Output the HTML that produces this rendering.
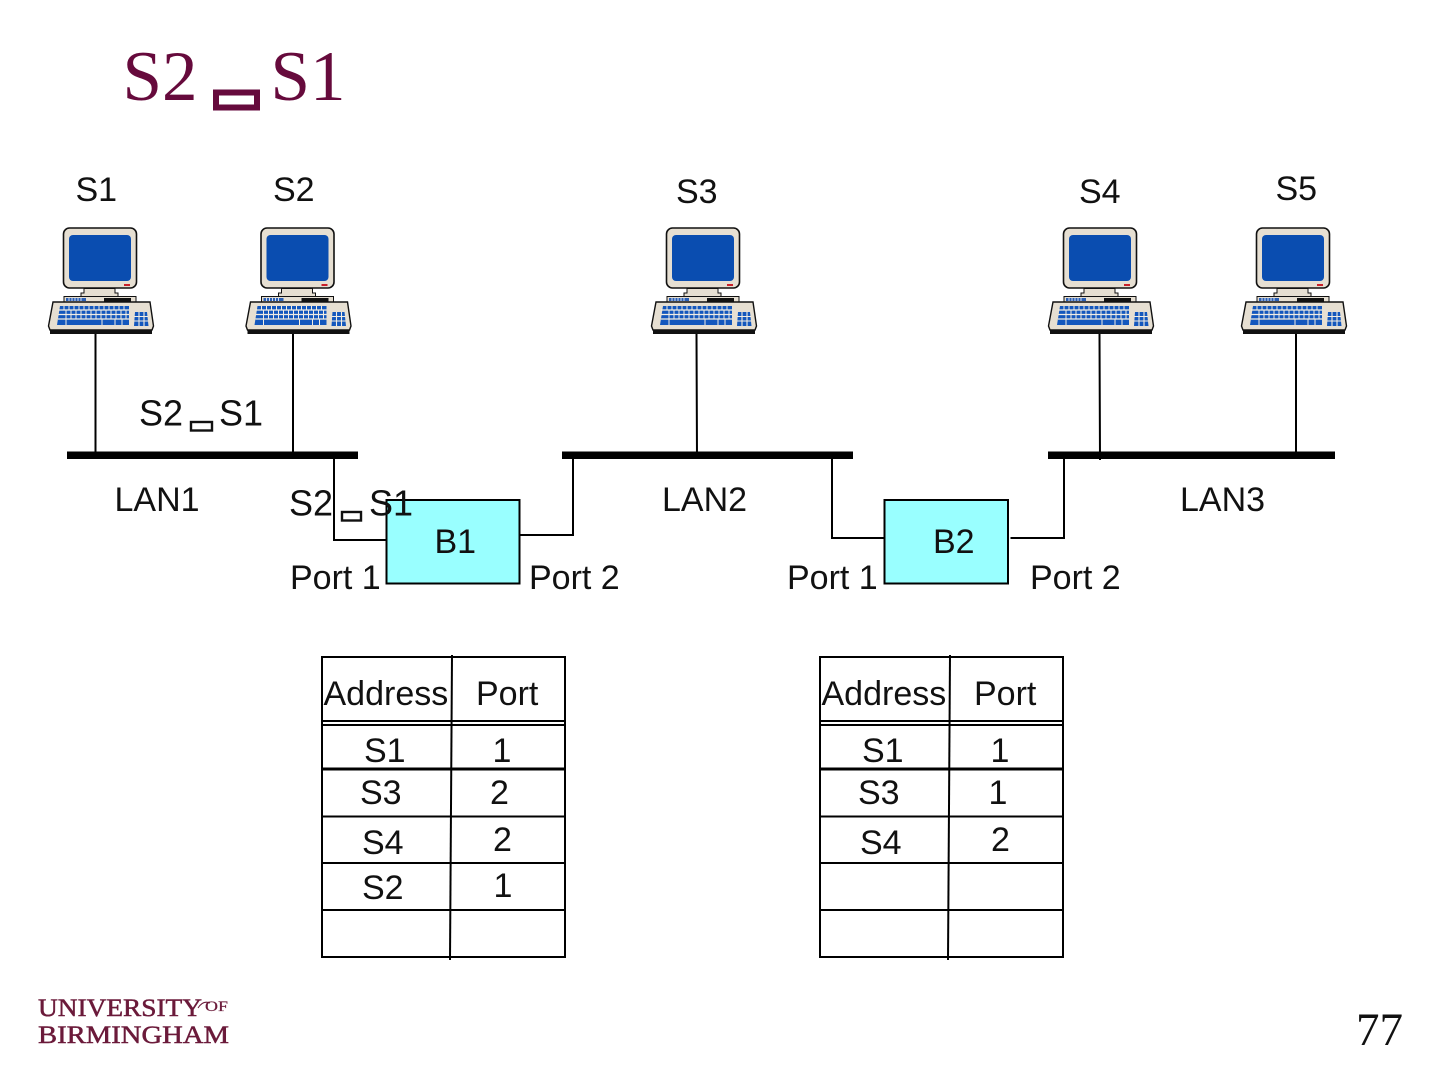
<!DOCTYPE html>
<html>
<head>
<meta charset="utf-8">
<style>
html,body{margin:0;padding:0;background:#fff}
svg{display:block}
.t{font-family:"Liberation Sans",sans-serif;font-size:34px;fill:#111}
.b{font-size:36px}
.l{stroke:#000;stroke-width:2;fill:none}
.s{font-family:"Liberation Serif",serif}
</style>
</head>
<body>
<svg width="1440" height="1080" viewBox="0 0 1440 1080" xmlns="http://www.w3.org/2000/svg">
<rect width="1440" height="1080" fill="#fff"/>
<defs>
<g id="pc">
  <rect x="63.500" y="228" width="73" height="60" rx="6" fill="#e6dfd2" stroke="#111" stroke-width="1.600"/>
  <rect x="69" y="235" width="62" height="46" rx="4" fill="#0a4db0"/>
  <rect x="124" y="284" width="6" height="2" fill="#c8202a"/>
  <path d="M84 288.500H115V293H118V296.500H81V293H84Z" fill="#e6dfd2" stroke="#111" stroke-width="1"/>
  <rect x="64" y="296.500" width="72" height="6" fill="#e6dfd2" stroke="#111" stroke-width="1"/>
  <rect x="66" y="298" width="20" height="3" fill="#2a5fb5"/>
  <path d="M69 298v3M72 298v3M75 298v3M78 298v3M81 298v3" stroke="#fff" stroke-width=".8"/>
  <rect x="104" y="298" width="27" height="4" fill="#111"/>
  <path d="M53 302H150L153.500 326L152 330H50L48.500 326Z" fill="#e6dfd2" stroke="#111" stroke-width="1.400"/>
  <rect x="50" y="330" width="102" height="4" fill="#111"/>
  <path d="M60 306H129V325H57Z" fill="#1357bd"/>
  <path d="M135 312H147L148.500 326H134Z" fill="#1357bd"/>
  <path d="M58 310H129M58 314.500H129M58 319H129" stroke="#f2ede2" stroke-width="1.200"/>
  <path d="M64 306v4M69 306v4M74 306v4M79 306v4M84 306v4M89 306v4M94 306v4M99 306v4M104 306v4M109 306v4M114 306v4M119 306v4M124 306v4M66 310v9M71 310v9M76 310v9M81 310v9M86 310v9M91 310v9M96 310v9M101 310v9M106 310v9M111 310v9M116 310v9M121 310v9M126 310v9" stroke="#f2ede2" stroke-width="1"/>
  <path d="M66 319v6M102 319v6M115 319v6M122 319v6" stroke="#f2ede2" stroke-width="1"/>
  <path d="M139 312v14M144 312v14M134 316.500H148M134 321H148" stroke="#f2ede2" stroke-width="1.100"/>
</g>
<g id="tb">
  <rect x="322" y="657" width="243" height="300" fill="#fff" stroke="#000" stroke-width="2"/>
  <path class="l" d="M323 721H564M323 725H564M323 816.500H564M323 863H564M323 910H564"/>
  <path d="M323 769H564" stroke="#000" stroke-width="3" fill="none"/>
  <path class="l" d="M452 655L450 960"/>
</g>
</defs>

<text class="s" x="122.500" y="100" font-size="71" fill="#660a3c">S2</text>
<rect x="216" y="92.500" width="41" height="15" fill="none" stroke="#660a3c" stroke-width="6"/>
<text class="s" x="270.500" y="100" font-size="71" fill="#660a3c">S1</text>

<text class="t" x="75.500" y="201">S1</text>
<text class="t" x="273" y="201">S2</text>
<text class="t" x="676" y="203">S3</text>
<text class="t" x="1079" y="203">S4</text>
<text class="t" x="1275.500" y="200">S5</text>

<use href="#pc"/>
<use href="#pc" transform="translate(197.500,0)"/>
<use href="#pc" transform="translate(603,0)"/>
<use href="#pc" transform="translate(1000,0)"/>
<use href="#pc" transform="translate(1193,0)"/>

<path class="l" d="M95.500 334V459M293 334V459M696.500 334L697 459M1099.500 334L1100 460M1296 334V455"/>

<rect x="67" y="451.500" width="291" height="7.500" fill="#000"/>
<rect x="562" y="451.500" width="291" height="7.500" fill="#000"/>
<rect x="1048" y="451.500" width="287" height="7.500" fill="#000"/>

<text class="t b" x="139" y="425.500">S2</text>
<rect x="191" y="422" width="21" height="8.500" fill="none" stroke="#111" stroke-width="2.400"/>
<text class="t b" x="219" y="425.500">S1</text>

<text class="t" x="114.500" y="511">LAN1</text>
<text class="t" x="662" y="511">LAN2</text>
<text class="t" x="1180" y="511">LAN3</text>

<path class="l" d="M334 459V540H386M519 535H573V459"/>
<path class="l" d="M832 459V538H884M1010.500 538H1064V459"/>

<rect x="386.500" y="500" width="133" height="83.500" fill="#99ffff" stroke="#000" stroke-width="2"/>
<rect x="884.500" y="500" width="123.500" height="83.500" fill="#99ffff" stroke="#000" stroke-width="2"/>

<text class="t b" x="289" y="515.500">S2</text>
<rect x="342" y="512" width="19" height="8.500" fill="none" stroke="#111" stroke-width="2.400"/>
<text class="t b" x="369" y="515.500">S1</text>
<text class="t" x="434.500" y="553">B1</text>
<text class="t" x="933" y="553">B2</text>
<text class="t" x="290" y="589">Port 1</text>
<text class="t" x="529" y="589">Port 2</text>
<text class="t" x="787" y="589">Port 1</text>
<text class="t" x="1030" y="589">Port 2</text>

<use href="#tb"/>
<use href="#tb" transform="translate(498,0)"/>

<text class="t" x="323.500" y="705">Address</text>
<text class="t" x="476" y="705">Port</text>
<text class="t" x="364" y="762">S1</text>
<text class="t" x="492.500" y="762">1</text>
<text class="t" x="360" y="804">S3</text>
<text class="t" x="490" y="804">2</text>
<text class="t" x="362" y="854">S4</text>
<text class="t" x="493" y="851">2</text>
<text class="t" x="362" y="899">S2</text>
<text class="t" x="493.500" y="897">1</text>

<text class="t" x="821.500" y="705">Address</text>
<text class="t" x="974" y="705">Port</text>
<text class="t" x="862" y="762">S1</text>
<text class="t" x="990.500" y="762">1</text>
<text class="t" x="858" y="804">S3</text>
<text class="t" x="988.500" y="804">1</text>
<text class="t" x="860" y="854">S4</text>
<text class="t" x="991" y="851">2</text>

<text class="s" x="38" y="1016" font-size="25" fill="#6b1a3a" stroke="#6b1a3a" stroke-width=".5" textLength="164" lengthAdjust="spacingAndGlyphs">UNIVERSITY</text>
<path d="M198 1008Q203 1000 210 1003" fill="none" stroke="#6b1a3a" stroke-width="1"/>
<text class="s" x="205" y="1011" font-size="15" fill="#6b1a3a" stroke="#6b1a3a" stroke-width=".2" textLength="23" lengthAdjust="spacingAndGlyphs">OF</text>
<text class="s" x="38" y="1043" font-size="25" fill="#6b1a3a" stroke="#6b1a3a" stroke-width=".5" textLength="191" lengthAdjust="spacingAndGlyphs">BIRMINGHAM</text>

<text class="s" x="1356" y="1045" font-size="47" fill="#111">77</text>
</svg>
</body>
</html>
